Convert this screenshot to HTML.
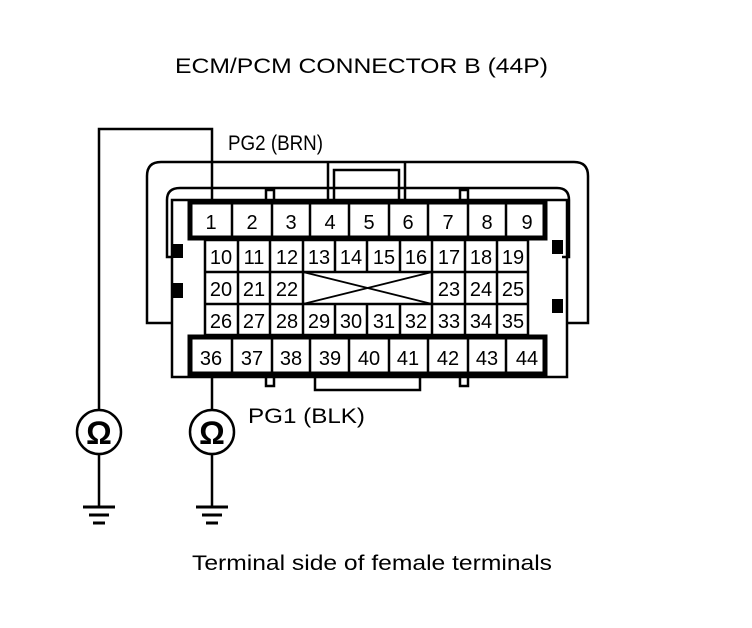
<!DOCTYPE html>
<html><head><style>
html,body{margin:0;padding:0;background:#fff;}
svg{display:block;font-family:"Liberation Sans",Arial,sans-serif;}
</style></head><body>
<svg width="752" height="628" viewBox="0 0 752 628" xmlns="http://www.w3.org/2000/svg">
<rect width="752" height="628" fill="#fff"/>
<g fill="none" stroke="#000" stroke-width="2.5">
<path d="M172,323 H147 V176 Q147,162 161,162 H574 Q588,162 588,176 V323 H566"/>
<path d="M173,257 H167 V200 Q167,188 180,188 H557 Q569,188 569,200 V257 H562"/>
<rect x="172" y="200" width="395" height="177"/>
<path d="M328,162 V200 M405,162 V200 M334,200 V170 H399 V200"/>
<path d="M315,377 V390 H420 V377"/>
</g>
<g fill="#fff" stroke="#000" stroke-width="2.5">
<rect x="266" y="190" width="8" height="10"/>
<rect x="460" y="190" width="8" height="10"/>
<rect x="266" y="377" width="8" height="9"/>
<rect x="460" y="377" width="8" height="9"/>
</g>
<g fill="#000">
<rect x="172" y="244" width="11" height="14"/>
<rect x="172" y="283" width="11" height="15"/>
<rect x="552" y="240" width="11" height="14"/>
<rect x="552" y="299" width="11" height="14"/>
</g>
<rect x="190" y="202" width="355" height="36" fill="#fff" stroke="#000" stroke-width="5"/>
<rect x="190" y="337" width="355" height="37" fill="#fff" stroke="#000" stroke-width="5"/>
<g stroke="#000" stroke-width="2.5">
<path d="M232,202 V238 M272,202 V238 M310,202 V238 M349,202 V238 M389,202 V238 M428,202 V238 M468,202 V238 M506,202 V238"/>
<path d="M232,337 V374 M272,337 V374 M310,337 V374 M349,337 V374 M389,337 V374 M428,337 V374 M468,337 V374 M506,337 V374"/>
<rect x="205" y="240" width="323" height="95" fill="none"/>
<path d="M205,272 H528 M205,304 H528"/>
<path d="M238,240 V335 M270,240 V335 M303,240 V335 M432,240 V335 M465,240 V335 M497,240 V335"/>
<path d="M335,240 V272 M367,240 V272 M400,240 V272 M335,304 V335 M367,304 V335 M400,304 V335"/>
<path d="M303,304 L432,272 M303,272 L432,304" stroke-width="1.8"/>
</g>
<g font-size="20" text-anchor="middle" fill="#000">
<text x="211" y="229">1</text><text x="252" y="229">2</text><text x="291" y="229">3</text><text x="330" y="229">4</text><text x="369" y="229">5</text><text x="408" y="229">6</text><text x="448" y="229">7</text><text x="487" y="229">8</text><text x="527" y="229">9</text>
<g textLength="28" lengthAdjust="spacingAndGlyphs">
<text x="221" y="264">10</text><text x="254" y="264">11</text><text x="287" y="264">12</text><text x="319" y="264">13</text><text x="351" y="264">14</text><text x="384" y="264">15</text><text x="416" y="264">16</text><text x="449" y="264">17</text><text x="481" y="264">18</text><text x="513" y="264">19</text>
<text x="221" y="296">20</text><text x="254" y="296">21</text><text x="287" y="296">22</text><text x="449" y="296">23</text><text x="481" y="296">24</text><text x="513" y="296">25</text>
<text x="221" y="328">26</text><text x="254" y="328">27</text><text x="287" y="328">28</text><text x="319" y="328">29</text><text x="351" y="328">30</text><text x="384" y="328">31</text><text x="416" y="328">32</text><text x="449" y="328">33</text><text x="481" y="328">34</text><text x="513" y="328">35</text>
</g>
<text x="211" y="365">36</text><text x="252" y="365">37</text><text x="291" y="365">38</text><text x="330" y="365">39</text><text x="369" y="365">40</text><text x="408" y="365">41</text><text x="448" y="365">42</text><text x="487" y="365">43</text><text x="527" y="365">44</text>
</g>
<g fill="none" stroke="#000" stroke-width="2.5">
<path d="M212,202 V129 H99 V410"/>
<path d="M212,376 V410"/>
<circle cx="99" cy="432" r="22"/>
<circle cx="212" cy="432" r="22"/>
<path d="M99,454 V506 M212,454 V506"/>
</g>
<g stroke="#000" stroke-width="3">
<path d="M83,507 H115 M89,515 H109 M93,523 H105"/>
<path d="M196,507 H228 M202,515 H222 M206,523 H218"/>
</g>
<g font-size="32" font-weight="bold" text-anchor="middle" fill="#000">
<text x="99" y="444">Ω</text><text x="212" y="444">Ω</text>
</g>
<g font-size="21" fill="#000">
<text x="175" y="73" textLength="373" lengthAdjust="spacingAndGlyphs">ECM/PCM CONNECTOR B (44P)</text>
<text x="228" y="150" textLength="95" lengthAdjust="spacingAndGlyphs">PG2 (BRN)</text>
<text x="248" y="423" textLength="117" lengthAdjust="spacingAndGlyphs">PG1 (BLK)</text>
<text x="192" y="570" textLength="360" lengthAdjust="spacingAndGlyphs">Terminal side of female terminals</text>
</g>
</svg>
</body></html>
